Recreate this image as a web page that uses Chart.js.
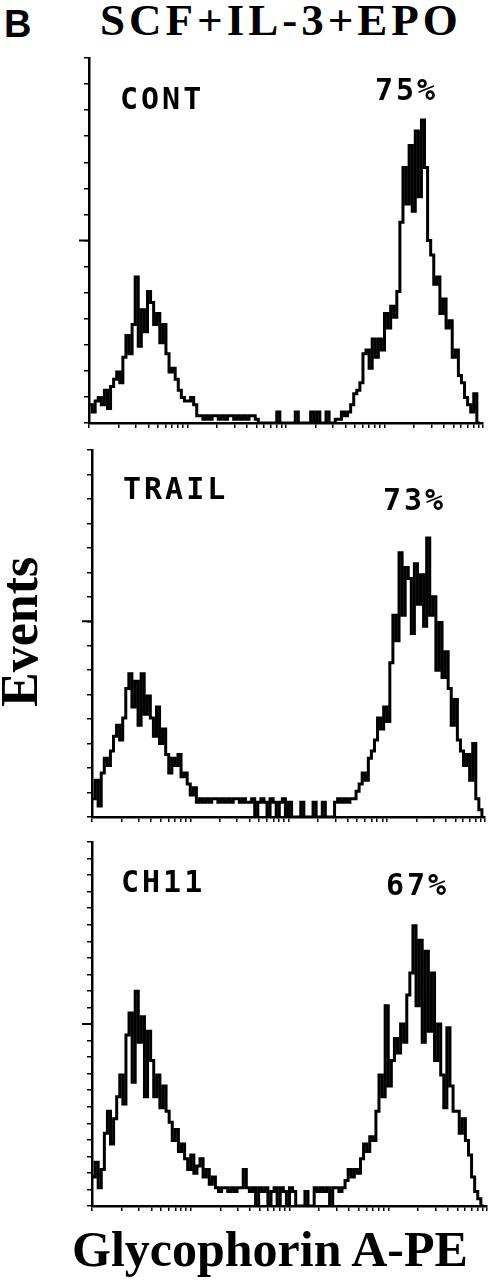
<!DOCTYPE html>
<html>
<head>
<meta charset="utf-8">
<script src="https://cdn.jsdelivr.net/npm/chart.js@4.4.1/dist/chart.umd.min.js"></script>
<style>
  body { margin: 0; background: #fff; }
  #fig { position: relative; width: 491px; height: 1280px; overflow: hidden; background: #fff; }
  #fig canvas { position: absolute; left: 0; }
  .txt { position: absolute; white-space: nowrap; line-height: 1; color: #000; }
  .serif { font-family: "Liberation Serif", "Times New Roman", serif; font-weight: bold; }
  .mono { font-family: "DejaVu Sans Mono", monospace; font-weight: bold; font-size: 30px; letter-spacing: 3px; }
</style>
</head>
<body>
<div id="fig">
  <div class="txt" style="left:4px;top:3px;font:bold 38px 'Liberation Sans',Arial,sans-serif;">B</div>
  <div class="txt serif" style="left:100px;top:-2px;font-size:45px;letter-spacing:4px;">SCF+IL-3+EPO</div>
  <div class="txt serif" style="left:0;top:0;font-size:52px;transform-origin:0 0;transform:translate(-6px,707px) rotate(-90deg);">Events</div>
  <div class="txt serif" style="left:72px;top:1224px;font-size:50px;">Glycophorin A-PE</div>
  <canvas id="c0"></canvas>
  <canvas id="c1"></canvas>
  <canvas id="c2"></canvas>
</div>
<script>
// histogram channels: 4 log decades, 32 channels per decade
const channels = 128;
const decades = 4;

// event counts per channel, in % of the y axis height
const contCounts = [
  5, 3, 6, 7, 5, 9, 4, 10, 12, 14,
  11,
  18, 24, 19, 27, 40, 21, 31, 25, 36, 33, 27, 30, 22, 27, 19,
  14, 15, 12, 9, 7, 6, 6, 7, 5, 2,
  2, 1, 2, 1, 2, 2, 1, 2, 1, 2, 2, 1, 2, 1, 2, 1, 2, 2, 1,
  0, 0, 0, 0, 0, 0, 3, 0, 0, 0, 0, 0, 3, 0, 0, 0, 0, 3, 0, 3, 0, 0, 3, 0, 0, 1,
  1, 3, 2, 3, 5, 8, 9, 11, 19, 20,
  15, 23, 18, 23, 20, 30, 26, 32, 29, 36,
  55, 70, 60, 76, 58, 80, 62, 83, 70, 50,
  46, 38, 40, 30, 34, 26, 28, 18, 20, 13,
  11, 7, 5, 3, 8, 0, 0
];
const trailCounts = [
  5, 10, 3, 12,
  16, 14, 18,
  22, 25, 21, 27,
  35, 39, 30, 37, 25, 39, 28, 33,
  27, 22, 30, 20, 24,
  17, 12, 16, 14, 17, 11, 12,
  9, 6, 8, 4,
  5, 4, 5, 4, 5, 5, 4, 5, 4, 5, 4, 5, 5, 4, 5, 4,
  4, 5, 0, 4, 5, 4, 0, 5, 4, 0, 4, 5, 0, 4, 0,
  0, 0, 4, 0, 0, 0, 4, 0, 0, 4, 0, 0, 0,
  4, 5, 4, 5, 4, 5, 5,
  7, 9, 12, 10, 16, 18,
  21, 27, 24, 30, 26,
  42, 55, 48,
  72, 55, 68,
  65, 50, 69, 58, 66, 52,
  76, 55,
  60, 40, 53, 38, 45,
  35, 25, 32, 21,
  18, 14, 17, 10,
  20, 5, 2, 0
];
const ch11Counts = [
  8, 12, 5, 10,
  20, 26, 17, 24,
  30, 36, 28,
  47, 53, 34, 59, 45, 52, 30, 48,
  40, 30, 36, 27, 33, 26,
  23, 18, 21, 15, 17,
  13, 10, 14, 9, 11, 13, 8, 10, 6, 8,
  5, 4, 5, 5, 4, 5, 4, 5, 5, 10,
  5, 4, 5, 0, 5, 4, 5, 0, 4, 5, 0, 5, 4, 0, 5, 4,
  0, 0, 0, 4, 0, 0, 5, 4,
  5, 4, 5, 0, 5, 5, 4, 5,
  7, 10, 8, 10, 9,
  13, 17, 15, 19, 18,
  26, 36, 30, 55, 33,
  40, 46, 42, 50, 45,
  58, 64, 77, 55,
  73, 45, 70, 48,
  64, 40, 50, 36,
  27, 49, 33, 26,
  26, 20, 24, 18,
  14, 8, 4, 2,
  0, 0
];

const panelNames = ['CONT', 'TRAIL', 'CH11'];
const panelPercents = ['75%', '73%', '67%'];
const yTickIntervals = [14, 15, 22];
const yMajorTick = [7, 8, 11];

// plot boxes (pixels) and label spots
const boxes = [
  { left: 89, top: 58, right: 483, bottom: 423 },
  { left: 92, top: 450, right: 485, bottom: 817 },
  { left: 92, top: 842, right: 487, bottom: 1206 }
];
const nameSpots = [[120, 84], [123, 474], [121, 867]];
const pctSpots = [[375, 75], [383, 485], [386, 870]];

const allCounts = [contCounts, trailCounts, ch11Counts];
const tickLen = 5;
const pad = 14;
const fig = document.getElementById('fig');

// tick marks at 1..9 x 10^d on the channel axis
const xTickValues = [];
for (let d = 0; d < decades; d++) {
  for (let k = 1; k < 10; k++) xTickValues.push((d + Math.log10(k)) * channels / decades);
}
xTickValues.push(channels);

const majorTickPlugin = {
  id: 'majorTick',
  afterDraw(chart, args, opts) {
    const y = chart.scales.y;
    const py = y.getPixelForValue(opts.value);
    const ctx = chart.ctx;
    ctx.save();
    ctx.strokeStyle = '#000';
    ctx.lineWidth = 2;
    ctx.beginPath();
    ctx.moveTo(y.right - 10, py);
    ctx.lineTo(y.right, py);
    ctx.stroke();
    ctx.restore();
  }
};

boxes.forEach((b, p) => {
  const canvas = document.getElementById('c' + p);
  canvas.width = 491;
  canvas.height = b.bottom - b.top + pad * 2;
  canvas.style.top = (b.top - pad) + 'px';

  const n = yTickIntervals[p];
  const yTicks = [];
  for (let i = 0; i <= n; i++) yTicks.push(i * 100 / n);

  new Chart(canvas, {
    type: 'line',
    data: {
      datasets: [{
        data: allCounts[p].map((v, i) => ({ x: i, y: v })),
        stepped: true,
        borderColor: '#000',
        borderWidth: 3,
        pointRadius: 0,
        fill: false
      }]
    },
    options: {
      responsive: false,
      animation: false,
      devicePixelRatio: 1,
      events: [],
      layout: {
        padding: { left: b.left - tickLen, right: 491 - b.right, top: pad, bottom: pad - tickLen }
      },
      plugins: {
        legend: { display: false },
        tooltip: { enabled: false },
        majorTick: { value: yMajorTick[p] * 100 / n }
      },
      scales: {
        x: {
          type: 'linear', min: 0, max: channels,
          afterBuildTicks: s => { s.ticks = xTickValues.map(v => ({ value: v })); },
          ticks: { display: false },
          grid: { drawOnChartArea: false, drawTicks: true, tickLength: tickLen, color: '#000', lineWidth: 1.5 },
          border: { display: true, color: '#000', width: 2.5 }
        },
        y: {
          min: 0, max: 100,
          afterBuildTicks: s => { s.ticks = yTicks.map(v => ({ value: v })); },
          ticks: { display: false },
          grid: { drawOnChartArea: false, drawTicks: true, tickLength: tickLen, color: '#000', lineWidth: 1.5 },
          border: { display: true, color: '#000', width: 2.5 }
        }
      }
    },
    plugins: [majorTickPlugin]
  });

  const name = document.createElement('div');
  name.className = 'txt mono';
  name.textContent = panelNames[p];
  name.style.left = nameSpots[p][0] + 'px';
  name.style.top = nameSpots[p][1] + 'px';
  fig.appendChild(name);

  const pct = document.createElement('div');
  pct.className = 'txt mono';
  pct.textContent = panelPercents[p];
  pct.style.left = pctSpots[p][0] + 'px';
  pct.style.top = pctSpots[p][1] + 'px';
  fig.appendChild(pct);
});
</script>
</body>
</html>
